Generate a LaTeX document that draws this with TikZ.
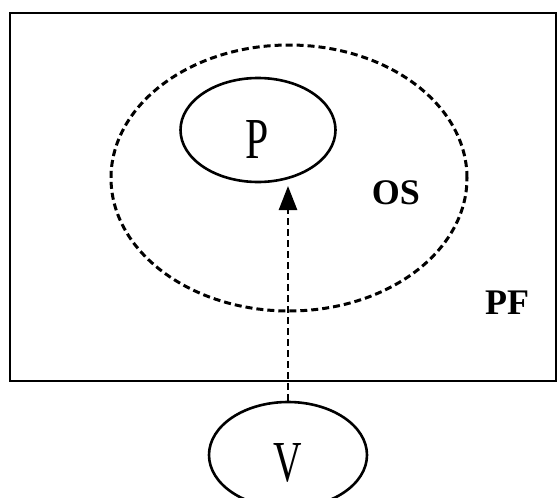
\documentclass[tikz,border=0pt]{standalone}
\usepackage{fontspec}
\setmainfont{Liberation Serif}
\usetikzlibrary{shapes.geometric,arrows.meta}
\tikzset{
  solidell/.style={draw=black, ellipse, line width=2.6pt, inner sep=0pt},
  dashell/.style={draw=black, ellipse, line width=3pt, dash pattern=on 7pt off 4pt, inner sep=0pt},
  bigletter/.style={font=\fontsize{58}{60}\selectfont},
  labeltext/.style={font=\fontsize{36}{38}\selectfont\bfseries},
  conn/.style={line width=2.6pt, dash pattern=on 7pt off 4pt, -{Triangle[length=24pt,width=18pt]}}
}
\begin{document}
\begin{tikzpicture}[x=1pt,y=-1pt]
\useasboundingbox (0,0) rectangle (560,498);
\draw[line width=2.8pt] (10,13) rectangle (556,381);
\node[dashell, minimum width=356pt, minimum height=266pt] (os) at (289,178) {};
\node[solidell, minimum width=155pt, minimum height=104pt] (p) at (258,130) {};
\node[bigletter] (ptext) at (257,140) {\scalebox{0.72}[1]{P}};
\node[solidell, minimum width=158pt, minimum height=106pt] (v) at (288,455) {};
\node[bigletter] (vtext) at (288,463) {\scalebox{0.68}[1]{V}};
\node[labeltext] (oslabel) at (396,193) {OS};
\node[labeltext] (pflabel) at (507,303) {PF};
\coordinate (tip) at (288,186);
\draw[conn] (v.north) -- (tip);
\end{tikzpicture}
\end{document}
